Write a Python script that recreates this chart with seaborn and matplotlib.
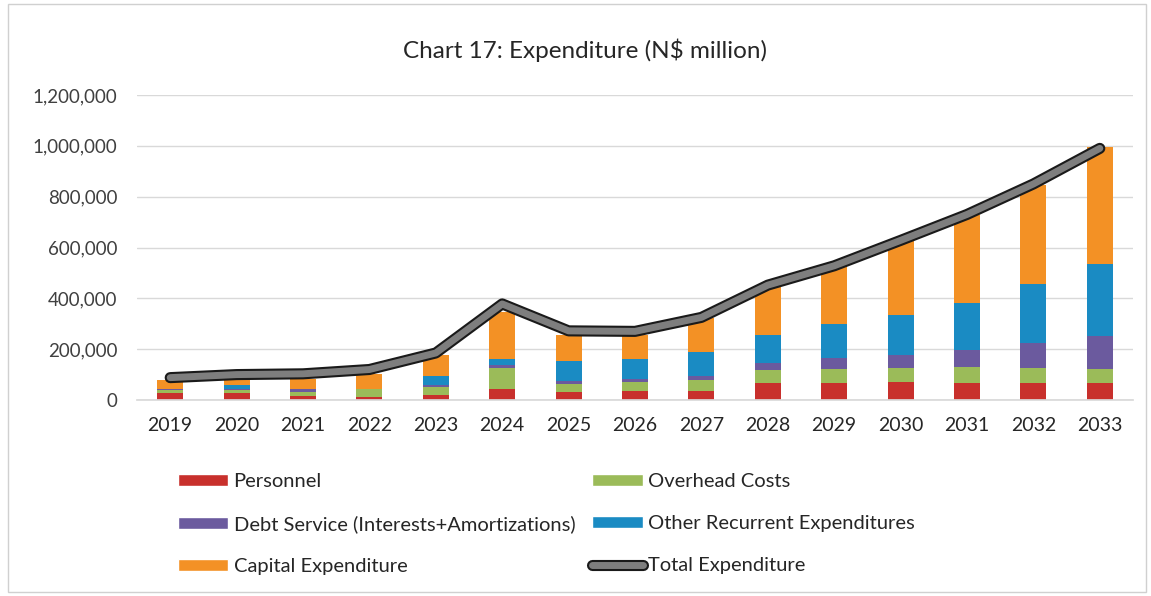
import numpy as np
import pandas as pd
import seaborn as sns
import matplotlib
matplotlib.use("Agg")
import matplotlib.pyplot as plt
import matplotlib.patheffects as pe
from matplotlib.patches import Patch, Rectangle
from matplotlib.lines import Line2D
from matplotlib.ticker import FuncFormatter

years = ["2019", "2020", "2021", "2022", "2023", "2024", "2025", "2026",
         "2027", "2028", "2029", "2030", "2031", "2032", "2033"]
personnel = [29000, 28000, 16000, 13000, 20000, 42000, 33000, 36000,
             36000, 66000, 68000, 70000, 68000, 68000, 68000]
overhead = [9000, 10000, 16000, 29000, 33000, 82000, 29000, 33000,
            42000, 52000, 54000, 55000, 61000, 57000, 54000]
debt_service = [4000, 7000, 10000, 3000, 7000, 13000, 13000, 13000,
                15000, 27000, 42000, 53000, 68000, 99000, 128000]
other_recurrent = [0, 14000, 0, 0, 35000, 26000, 80000, 80000,
                   95000, 112000, 136000, 158000, 185000, 231000, 286000]
capital = [38000, 22000, 39000, 59000, 82000, 183000, 99000, 95000,
           135000, 193000, 226000, 289000, 344000, 390000, 458000]
total = [88000, 100000, 103000, 120000, 185000, 378000, 272000, 270000,
         325000, 452000, 528000, 628000, 730000, 850000, 990000]

series_names = ["Personnel", "Overhead Costs", "Debt Service (Interests+Amortizations)",
                "Other Recurrent Expenditures", "Capital Expenditure"]
series_vals = [personnel, overhead, debt_service, other_recurrent, capital]
colors = ["#C8302C", "#9BBB59", "#6B5A9E", "#1A8BC3", "#F39125"]

sns.set_theme(style="white")
plt.rcParams["font.family"] = ["Lato", "DejaVu Sans"]

fig = plt.figure(figsize=(11.51, 5.96), dpi=100)
fig.patch.set_facecolor("white")
ax = fig.add_axes([137/1151, 1-400/596, (1133-137)/1151, (400-95)/596])

cum = np.zeros(len(years))
cums = []
for vals in series_vals:
    cum = cum + np.array(vals)
    cums.append(cum.copy())

# draw tallest cumulative first so lower segments overlay
for i in range(len(series_vals) - 1, -1, -1):
    sns.barplot(x=years, y=cums[i], order=years, color=colors[i], width=0.39,
                saturation=1, ax=ax, errorbar=None, zorder=2,
                edgecolor="none", linewidth=0)

line_fx = [pe.Stroke(linewidth=8, foreground="#1a1a1a"), pe.Normal()]
sns.lineplot(x=np.arange(len(years)), y=total, ax=ax, color="#7e7e7e", lw=5,
             sort=False, zorder=4, solid_capstyle="round", path_effects=line_fx)

ax.set_xlim(-0.5, len(years) - 0.5)
ax.set_ylim(0, 1200000)
ax.set_yticks(np.arange(0, 1200001, 200000))
ax.yaxis.set_major_formatter(FuncFormatter(lambda v, p: f"{int(v):,}"))
ax.set_xticks(np.arange(len(years)))
ax.set_xticklabels(years)
ax.grid(axis="y", color="#D9D9D9", lw=1)
ax.grid(axis="x", visible=False)
ax.set_axisbelow(True)
for s in ["top", "right", "left"]:
    ax.spines[s].set_visible(False)
ax.spines["bottom"].set_color("#D9D9D9")
ax.tick_params(axis="y", length=0, pad=14, labelsize=13.5, labelcolor="#404040")
ax.tick_params(axis="x", length=0, pad=12, labelsize=14, labelcolor="#262626")
ax.set_xlabel("")
ax.set_ylabel("")

fig.text(585/1151, 1-50/596, r"Chart 17: Expenditure (N\$ million)", ha="center", va="center",
         fontsize=17.5, color="#262626")

handles = [Patch(facecolor=colors[0]), Patch(facecolor=colors[2]), Patch(facecolor=colors[4]),
           Patch(facecolor=colors[1]), Patch(facecolor=colors[3]),
           Line2D([0], [0], color="#7e7e7e", lw=5, path_effects=line_fx)]
labels = [series_names[0], series_names[2], series_names[4],
          series_names[1], series_names[3], "Total Expenditure"]
leg = fig.legend(handles, labels, loc="upper left", bbox_to_anchor=(160/1151, 1-455/596),
                 ncol=2, frameon=False, fontsize=14.5, handlelength=2.5, handleheight=0.55,
                 handletextpad=0.25, labelspacing=1.25, columnspacing=0.85)
for t in leg.get_texts():
    t.set_color("#262626")

fig.patches.append(Rectangle((8/1151, 4/596), 1138/1151, 588/596, transform=fig.transFigure,
                             fill=False, edgecolor="#D0D0D0", lw=1))

fig.savefig("out.png", dpi=100)
